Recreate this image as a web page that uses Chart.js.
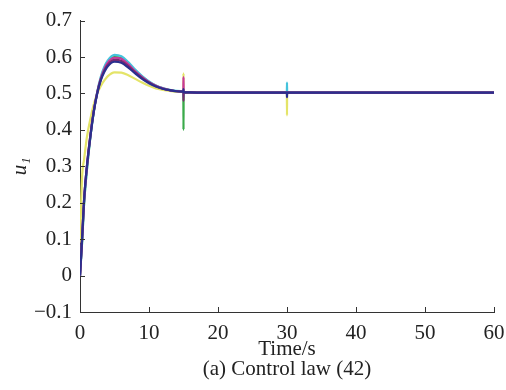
<!DOCTYPE html>
<html>
<head>
<meta charset="utf-8">
<script src="https://cdn.jsdelivr.net/npm/chart.js@4/dist/chart.umd.min.js"></script>
<style>
  html, body { margin: 0; padding: 0; background: #fff; }
  #wrap { width: 506px; height: 390px; }
</style>
</head>
<body>
<div id="wrap"><canvas id="u1Chart"></canvas></div>
<script>
// time samples (s)
const times = [0, 0.3, 0.6, 1, 1.5, 2, 2.5, 3, 3.5, 4, 5, 6, 7, 8, 9, 10, 11, 12, 13, 14,
  14.98, 15, 15.02, 16, 18, 20, 25, 29.98, 30, 30.02, 35, 40, 50, 60];

// u1 for each agent
const uYellow  = [0.09, 0.27, 0.32, 0.38, 0.43, 0.47, 0.50, 0.52, 0.535, 0.547, 0.558, 0.557, 0.55, 0.54, 0.53, 0.521, 0.514, 0.51, 0.507, 0.505,
  0.504, 0.555, 0.503, 0.503, 0.502, 0.502, 0.502, 0.502, 0.44, 0.502, 0.502, 0.502, 0.502, 0.502];
const uGreen   = [0, 0.09, 0.2, 0.29, 0.38, 0.45, 0.503, 0.54, 0.568, 0.585, 0.6, 0.597, 0.582, 0.563, 0.546, 0.532, 0.521, 0.514, 0.509, 0.506,
  0.505, 0.40, 0.503, 0.503, 0.502, 0.502, 0.502, 0.502, 0.502, 0.502, 0.502, 0.502, 0.502, 0.502];
const uCyan    = [0, 0.09, 0.2, 0.29, 0.38, 0.45, 0.505, 0.545, 0.572, 0.59, 0.606, 0.602, 0.586, 0.566, 0.548, 0.533, 0.522, 0.515, 0.51, 0.507,
  0.505, 0.49, 0.504, 0.503, 0.502, 0.502, 0.502, 0.502, 0.53, 0.502, 0.502, 0.502, 0.502, 0.502];
const uMagenta = [0, 0.1, 0.21, 0.3, 0.385, 0.452, 0.503, 0.54, 0.566, 0.584, 0.598, 0.595, 0.58, 0.561, 0.545, 0.531, 0.521, 0.514, 0.509, 0.506,
  0.505, 0.545, 0.503, 0.503, 0.502, 0.502, 0.502, 0.502, 0.502, 0.502, 0.502, 0.502, 0.502, 0.502];
const uPurple  = [0, 0.1, 0.21, 0.3, 0.385, 0.452, 0.502, 0.538, 0.562, 0.578, 0.592, 0.589, 0.575, 0.558, 0.543, 0.53, 0.52, 0.513, 0.509, 0.506,
  0.505, 0.48, 0.503, 0.503, 0.502, 0.502, 0.502, 0.502, 0.502, 0.502, 0.502, 0.502, 0.502, 0.502];
const uNavy    = [0, 0.1, 0.21, 0.3, 0.38, 0.45, 0.50, 0.535, 0.558, 0.574, 0.587, 0.584, 0.571, 0.555, 0.54, 0.528, 0.519, 0.513, 0.509, 0.506,
  0.505, 0.512, 0.503, 0.503, 0.502, 0.502, 0.502, 0.502, 0.49, 0.502, 0.502, 0.502, 0.502, 0.502];

const xTicks = [0, 10, 20, 30, 40, 50, 60];
const yTicks = [-0.1, 0, 0.1, 0.2, 0.3, 0.4, 0.5, 0.6, 0.7];

function series(vals, color) {
  return {
    data: vals.map((v, i) => ({ x: times[i], y: v })),
    borderColor: color,
    borderWidth: 2.2,
    pointRadius: 0,
    cubicInterpolationMode: "monotone",
    fill: false
  };
}

// inward tick marks, like the original plot
const inwardTicks = {
  id: "inwardTicks",
  afterDraw(chart) {
    const ctx = chart.ctx;
    const xs = chart.scales.x, ys = chart.scales.y;
    const area = chart.chartArea;
    ctx.save();
    ctx.strokeStyle = "#333";
    ctx.lineWidth = 1;
    ctx.beginPath();
    xTicks.forEach(t => {
      const px = Math.round(xs.getPixelForValue(t)) + 0.5;
      ctx.moveTo(px, area.bottom);
      ctx.lineTo(px, area.bottom - 5);
    });
    yTicks.forEach(t => {
      const py = Math.round(ys.getPixelForValue(t)) + 0.5;
      ctx.moveTo(area.left, py);
      ctx.lineTo(area.left + 5, py);
    });
    ctx.stroke();
    ctx.restore();
  }
};

const serif = "'Liberation Serif', 'Times New Roman', serif";

// first dataset is painted last, so navy goes first
new Chart(document.getElementById("u1Chart"), {
  type: "line",
  data: {
    datasets: [
      series(uNavy, "#2b2f8e"),
      series(uPurple, "#7a2a70"),
      series(uMagenta, "#c8389c"),
      series(uCyan, "#45c3dc"),
      series(uGreen, "#3aaa4a"),
      series(uYellow, "#e4e468")
    ]
  },
  options: {
    responsive: true,
    maintainAspectRatio: false,
    animation: false,
    layout: { padding: { top: 20, right: 12, left: 0, bottom: 0 } },
    plugins: { legend: { display: false }, tooltip: { enabled: false } },
    scales: {
      x: {
        type: "linear",
        min: 0,
        max: 60,
        afterFit: s => { s.height = 78; s.paddingRight = 12; s.paddingLeft = 0; },
        afterBuildTicks: s => { s.ticks = xTicks.map(v => ({ value: v })); },
        grid: { display: false, drawTicks: false },
        border: { color: "#333", width: 1 },
        ticks: { color: "#222", padding: 9, maxRotation: 0, font: { family: serif, size: 21 } },
        title: {
          display: true,
          text: ["Time/s", "(a) Control law (42)"],
          color: "#222",
          padding: { top: 0, bottom: 10 },
          font: { family: serif, size: 21, lineHeight: 0.96 }
        }
      },
      y: {
        min: -0.1,
        max: 0.7,
        afterFit: s => { s.width = 80; },
        afterBuildTicks: s => { s.ticks = yTicks.map(v => ({ value: v })); },
        grid: { display: false, drawTicks: false },
        border: { color: "#333", width: 1 },
        ticks: {
          color: "#222",
          padding: 8,
          font: { family: serif, size: 21 },
          callback: v => (v < 0 ? "\u2212" + Math.abs(v).toFixed(1) : (v === 0 ? "0" : v.toFixed(1)))
        },
        title: {
          display: true,
          text: "u\u2081",
          color: "#222",
          padding: { top: 8, bottom: 0 },
          font: { family: serif, size: 21, style: "italic" }
        }
      }
    }
  },
  plugins: [inwardTicks]
});
</script>
</body>
</html>
